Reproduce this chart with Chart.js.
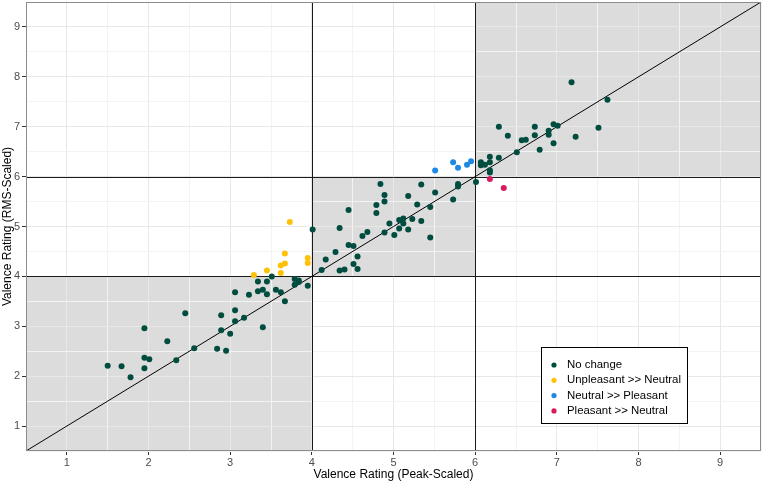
<!DOCTYPE html>
<html>
<head>
<meta charset="utf-8">
<script src="https://cdn.jsdelivr.net/npm/chart.js@4.4.1/dist/chart.umd.min.js"></script>
<style>
  html, body { margin: 0; padding: 0; background: #fff; }
  #wrap { width: 763px; height: 482px; }
</style>
</head>
<body>
<div id="wrap"><canvas id="valenceChart" width="763" height="482"></canvas></div>
<script>
// Valores (Peak-Scaled = x, RMS-Scaled = y)
const noChangePeak = [1.50, 1.67, 1.78, 1.95, 1.95, 2.01, 1.95, 2.23, 2.34, 2.45, 2.56, 2.84, 2.95, 2.89, 2.89, 3.00,
  3.06, 3.06, 3.06, 3.17, 3.23, 3.34, 3.34, 3.40, 3.40, 3.45, 3.45, 3.51, 3.56, 3.62, 3.67, 3.79, 3.79, 3.84, 3.84, 3.95,
  4.01, 4.12, 4.17, 4.29, 4.34, 4.40, 4.34, 4.45, 4.45, 4.51, 4.51, 4.56, 4.56, 4.62, 4.68, 4.79, 4.79, 4.84, 4.89, 4.89,
  4.89, 4.95, 5.01, 5.07, 5.07, 5.12, 5.12, 5.18, 5.18, 5.23, 5.29, 5.34, 5.34, 5.45, 5.45, 5.51, 5.73, 5.79, 5.79, 6.01,
  6.07, 6.07, 6.12, 6.18, 6.18, 6.18, 6.18, 6.29, 6.29, 6.40, 6.51, 6.57, 6.62, 6.73, 6.73, 6.79, 6.90, 6.90, 6.96, 6.96,
  7.01, 7.18, 7.23, 7.51, 7.62];
const noChangeRms = [2.21, 2.20, 1.98, 2.96, 2.37, 2.34, 2.16, 2.70, 2.32, 3.26, 2.56, 2.55, 2.51, 3.22, 2.92, 2.85,
  3.68, 3.32, 3.10, 3.17, 3.63, 3.90, 3.70, 3.73, 2.98, 3.90, 3.64, 4.00, 3.73, 3.68, 3.50, 3.95, 3.83, 3.92, 3.89, 3.81,
  4.94, 4.13, 4.34, 4.49, 4.12, 4.14, 4.97, 5.33, 4.63, 4.61, 4.25, 4.40, 4.15, 4.81, 4.89, 5.43, 5.27, 5.85, 5.63, 5.50,
  4.88, 5.06, 4.83, 5.13, 4.96, 5.16, 5.06, 5.61, 4.94, 5.15, 5.44, 5.84, 5.11, 5.39, 4.78, 5.68, 5.54, 5.85, 5.80, 5.89,
  6.29, 6.23, 6.24, 6.40, 6.29, 6.13, 6.08, 6.38, 7.00, 6.82, 6.49, 6.73, 6.74, 7.00, 6.83, 6.54, 6.92, 6.84, 7.05, 6.67,
  7.02, 7.89, 6.80, 6.98, 7.54];

const unpleasantNeutralPeak = [3.29, 3.45, 3.62, 3.62, 3.67, 3.67, 3.95, 3.95, 3.73];
const unpleasantNeutralRms  = [4.03, 4.12, 4.22, 4.07, 4.46, 4.26, 4.37, 4.27, 5.09];

const neutralPleasantPeak = [5.51, 5.73, 5.79, 5.90, 5.95];
const neutralPleasantRms  = [6.12, 6.29, 6.18, 6.24, 6.31];

const pleasantNeutralPeak = [6.18, 6.35];
const pleasantNeutralRms  = [5.95, 5.77];

const groupLabels = ['No change', 'Unpleasant >> Neutral', 'Neutral >> Pleasant', 'Pleasant >> Neutral'];
const groupColors = ['#004D40', '#FFC107', '#1E88E5', '#D81B60'];

const axisMin = 0.5;
const axisMax = 9.5;
const thresholds = [4, 6];
const shadedBands = [[0.5, 4], [4, 6], [6, 9.5]];
const identityLine = [0.5, 9.5];

const FONT = '"Liberation Sans", Arial, Helvetica, sans-serif';

function toPoints(xs, ys) {
    return xs.map((x, i) => ({ x: x, y: ys[i] }));
}

// Zonas sombreadas, umbrales, borde del panel y leyenda
const quadrantPlugin = {
    id: 'quadrants',
    beforeDraw(chart) {
        const { ctx, scales: { x, y } } = chart;
        ctx.save();
        ctx.fillStyle = '#dcdcdc';
        shadedBands.forEach(([lo, hi]) => {
            const x0 = x.getPixelForValue(lo), x1 = x.getPixelForValue(hi);
            const y0 = y.getPixelForValue(hi), y1 = y.getPixelForValue(lo);
            ctx.fillRect(x0, y0, x1 - x0, y1 - y0);
        });
        ctx.restore();
    },
    beforeDatasetsDraw(chart) {
        const { ctx, chartArea: a, scales: { x, y } } = chart;
        ctx.save();
        ctx.strokeStyle = '#1a1a1a';
        ctx.lineWidth = 1;
        thresholds.forEach(t => {
            const px = Math.round(x.getPixelForValue(t)) + 0.5;
            const py = Math.round(y.getPixelForValue(t)) + 0.5;
            ctx.beginPath();
            ctx.moveTo(px, a.top); ctx.lineTo(px, a.bottom);
            ctx.moveTo(a.left, py); ctx.lineTo(a.right, py);
            ctx.stroke();
        });
        ctx.restore();
    },
    afterDraw(chart) {
        const { ctx, chartArea: a } = chart;
        ctx.save();
        ctx.strokeStyle = '#8c8c8c';
        ctx.lineWidth = 1;
        ctx.strokeRect(a.left + 0.5, a.top + 0.5, a.right - a.left - 1, a.bottom - a.top - 1);

        // leyenda
        const boxW = 146, boxH = 76;
        const bx = Math.round(a.left + (a.right - a.left) * 0.80 - boxW / 2) + 0.5;
        const by = Math.round(a.bottom - (a.bottom - a.top) * 0.148 - boxH / 2) + 0.5;
        ctx.fillStyle = '#fff';
        ctx.fillRect(bx, by, boxW, boxH);
        ctx.strokeStyle = '#000';
        ctx.strokeRect(bx, by, boxW, boxH);
        ctx.font = '11.4px ' + FONT;
        ctx.textBaseline = 'middle';
        groupLabels.forEach((label, i) => {
            const cy = by + 17.5 + i * 15.3;
            ctx.fillStyle = groupColors[i];
            ctx.beginPath();
            ctx.arc(bx + 12.5, cy, 2.6, 0, Math.PI * 2);
            ctx.fill();
            ctx.fillStyle = '#000';
            ctx.fillText(label, bx + 25.5, cy);
        });
        ctx.restore();
    }
};

function gridColor(c) {
    if (!c.tick) return '#ebebeb';
    return Number.isInteger(c.tick.value) ? '#e8e8e8' : '#f3f3f3';
}
function tickMarkColor(c) {
    return c.tick && Number.isInteger(c.tick.value) ? '#333333' : 'rgba(0,0,0,0)';
}
function tickLabel(v) {
    return Number.isInteger(v) ? String(v) : '';
}

const datasets = [
    {
        type: 'line',
        label: 'identity',
        data: toPoints(identityLine, identityLine),
        borderColor: '#000',
        borderWidth: 1,
        pointRadius: 0,
        order: 10
    },
    { label: groupLabels[0], data: toPoints(noChangePeak, noChangeRms), backgroundColor: groupColors[0] },
    { label: groupLabels[1], data: toPoints(unpleasantNeutralPeak, unpleasantNeutralRms), backgroundColor: groupColors[1] },
    { label: groupLabels[2], data: toPoints(neutralPleasantPeak, neutralPleasantRms), backgroundColor: groupColors[2] },
    { label: groupLabels[3], data: toPoints(pleasantNeutralPeak, pleasantNeutralRms), backgroundColor: groupColors[3] }
];
datasets.slice(1).forEach(d => {
    d.type = 'scatter';
    d.pointRadius = 3;
    d.borderWidth = 0;
    d.order = 1;
});

new Chart(document.getElementById('valenceChart').getContext('2d'), {
    type: 'scatter',
    data: { datasets: datasets },
    options: {
        responsive: false,
        animation: false,
        layout: { autoPadding: false, padding: { top: 2, right: 2, left: 0, bottom: 0 } },
        plugins: {
            legend: { display: false },
            tooltip: { enabled: false }
        },
        scales: {
            x: {
                type: 'linear',
                min: axisMin,
                max: axisMax,
                afterFit: s => { s.height = 31; s.paddingLeft = 0; s.paddingRight = 0; },
                border: { display: false },
                grid: { color: gridColor, tickColor: tickMarkColor, tickLength: 4 },
                ticks: {
                    stepSize: 0.5, autoSkip: false, maxRotation: 0, padding: 1,
                    callback: tickLabel, color: '#4d4d4d', font: { size: 11, family: FONT }
                },
                title: {
                    display: true, text: 'Valence Rating (Peak-Scaled)', color: '#000',
                    font: { size: 12, family: FONT }, padding: { top: 0, bottom: 0 }
                }
            },
            y: {
                type: 'linear',
                min: axisMin,
                max: axisMax,
                afterFit: s => { s.width = 26; s.paddingTop = 0; s.paddingBottom = 0; },
                border: { display: false },
                grid: { color: gridColor, tickColor: tickMarkColor, tickLength: 4 },
                ticks: {
                    stepSize: 0.5, autoSkip: false, padding: 2,
                    callback: tickLabel, color: '#4d4d4d', font: { size: 11, family: FONT }
                },
                title: {
                    display: true, text: 'Valence Rating (RMS-Scaled)', color: '#000',
                    font: { size: 12, family: FONT }, padding: { top: 0, bottom: 0 }
                }
            }
        }
    },
    plugins: [quadrantPlugin]
});
</script>
</body>
</html>
